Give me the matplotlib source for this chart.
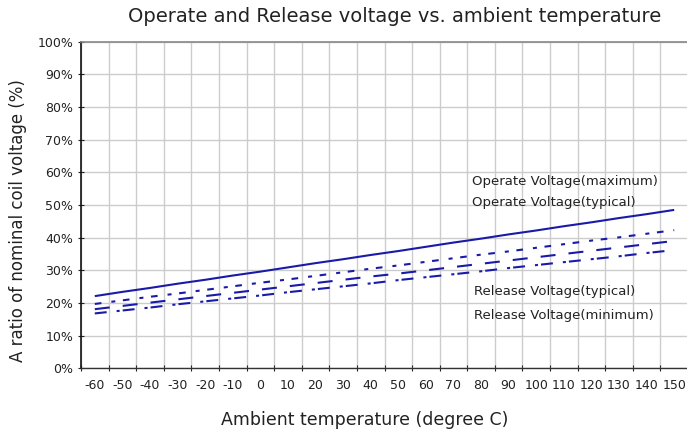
import matplotlib
matplotlib.use("Agg")
import matplotlib.pyplot as plt
from matplotlib.ticker import FixedLocator, FuncFormatter

plt.rcParams['font.family'] = ['DejaVu Sans']
plt.rcParams['lines.scale_dashes'] = False

temps = [-60, -50, -40, -30, -20, -10, 0, 10, 20, 30, 40, 50, 60, 70, 80, 90,
         100, 110, 120, 130, 140, 150]
operate_max = [22.1, 23.4, 24.6, 25.9, 27.1, 28.4, 29.6, 30.9, 32.2, 33.4, 34.7,
               35.9, 37.2, 38.5, 39.7, 41.0, 42.2, 43.5, 44.7, 46.0, 47.2, 48.5]
operate_typ = [19.7, 20.8, 21.9, 22.9, 24.0, 25.1, 26.2, 27.2, 28.3, 29.4, 30.5,
               31.5, 32.6, 33.7, 34.8, 35.8, 36.9, 38.0, 39.1, 40.1, 41.2, 42.3]
release_typ = [18.1, 19.1, 20.1, 21.1, 22.1, 23.1, 24.1, 25.1, 26.1, 27.1, 28.1,
               29.0, 30.0, 31.0, 32.0, 33.0, 34.0, 35.0, 36.0, 37.0, 38.0, 39.0]
release_min = [16.8, 17.7, 18.6, 19.6, 20.5, 21.4, 22.3, 23.3, 24.2, 25.1, 26.0,
               27.0, 27.9, 28.8, 29.7, 30.7, 31.6, 32.5, 33.4, 34.3, 35.3, 36.2]
y_ticks = [0, 10, 20, 30, 40, 50, 60, 70, 80, 90, 100]

line_color = '#1a1aa8'
text_color = '#222222'

fig = plt.figure(figsize=(6.87, 4.36), dpi=100)
ax = fig.add_axes([81 / 687, (436 - 368.3) / 436, 607 / 687, (368.3 - 41.7) / 436])

n = len(temps)
idx = list(range(n))
lw = 1.5
ax.plot(idx, operate_max, color=line_color, lw=lw, solid_capstyle='butt')
ax.plot(idx, operate_typ, color=line_color, lw=lw, dashes=[4.8, 7.2, 2.9, 5.5])
ax.plot(idx, release_typ, color=line_color, lw=lw, dashes=[10.8, 9.4])
ax.plot(idx, release_min, color=line_color, lw=lw, dashes=[8.6, 7.2, 2.2, 2.2])

ax.set_xlim(-0.5, n - 0.5)
ax.set_ylim(0, 100)

# x: boundaries as major ticks (grid), centers as minor labelled ticks
ax.xaxis.set_major_locator(FixedLocator([i - 0.5 for i in range(n + 1)]))
ax.xaxis.set_major_formatter(FuncFormatter(lambda v, p: ''))
ax.xaxis.set_minor_locator(FixedLocator(idx))
ax.set_xticklabels([str(t) for t in temps], minor=True)
ax.tick_params(axis='x', which='major', direction='inout', length=5, width=0.8,
               color='#222222')
ax.tick_params(axis='x', which='minor', length=0, pad=8, labelsize=9,
               labelcolor=text_color)

ax.set_yticks(y_ticks)
ax.set_yticklabels([f"{v}%" for v in y_ticks])
ax.tick_params(axis='y', direction='inout', length=5, width=0.8, color='#222222',
               labelsize=9, labelcolor=text_color, pad=3)

ax.grid(True, which='major', color='#cccccc', lw=1.0)
ax.set_axisbelow(True)

ax.spines['left'].set_color('#111111')
ax.spines['left'].set_linewidth(1.2)
ax.spines['bottom'].set_color('#333333')
ax.spines['bottom'].set_linewidth(1.0)
ax.spines['top'].set_color('#888888')
ax.spines['top'].set_linewidth(1.2)
ax.spines['right'].set_visible(False)

fs_ann = 9.5
x_ann = (472 - 81) / 27.6 - 0.5
ax.text(x_ann, 57.3, "Operate Voltage(maximum)", fontsize=fs_ann, va='center',
        ha='left', color=text_color)
ax.text(x_ann, 50.9, "Operate Voltage(typical)", fontsize=fs_ann, va='center',
        ha='left', color=text_color)
x_ann2 = (474 - 81) / 27.6 - 0.5
ax.text(x_ann2, 23.4, "Release Voltage(typical)", fontsize=fs_ann, va='center',
        ha='left', color=text_color)
ax.text(x_ann2, 16.3, "Release Voltage(minimum)", fontsize=fs_ann, va='center',
        ha='left', color=text_color)

fig.text(394.5 / 687, 1 - 16 / 436, "Operate and Release voltage vs. ambient temperature",
         ha='center', va='center', fontsize=14, color=text_color)
fig.text(365 / 687, 1 - 420 / 436, "Ambient temperature (degree C)", ha='center',
         va='center', fontsize=12.5, color=text_color)
fig.text(18 / 687, 1 - 221 / 436, "A ratio of nominal coil voltage (%)", ha='center',
         va='center', rotation=90, fontsize=12, color=text_color)

fig.savefig("out.png", dpi=100)
